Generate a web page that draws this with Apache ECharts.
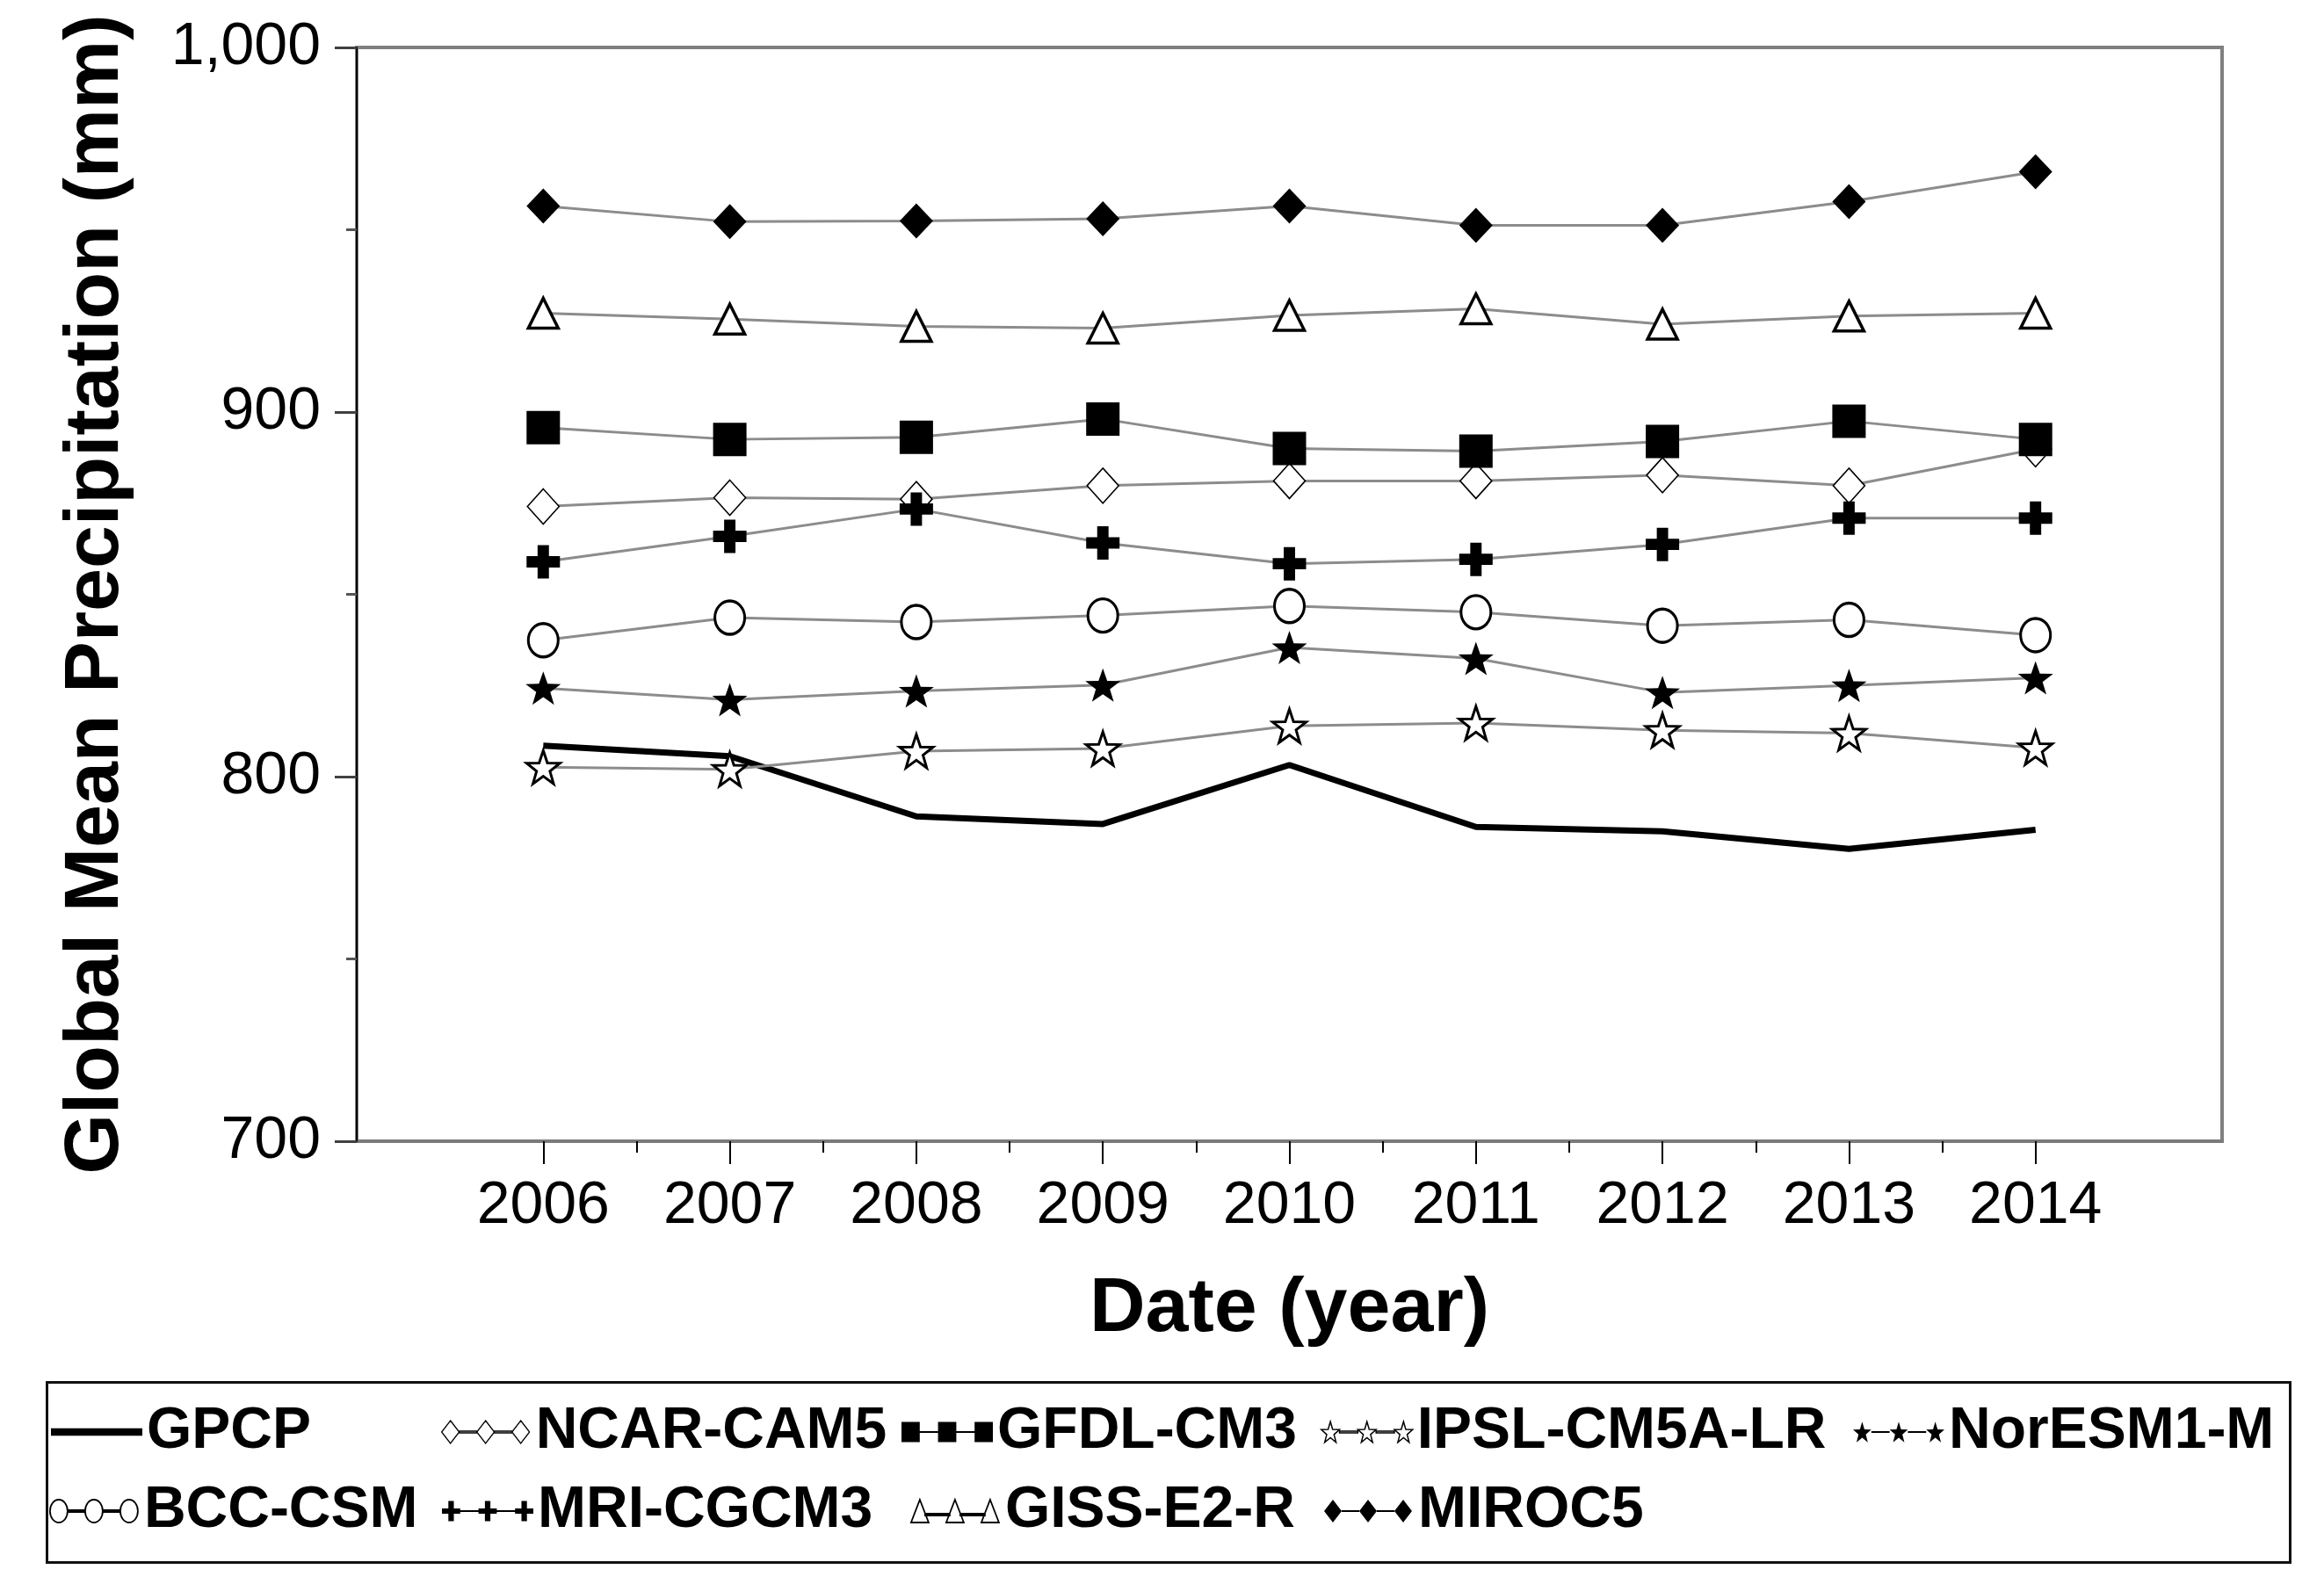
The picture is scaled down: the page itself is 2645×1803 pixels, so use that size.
<!DOCTYPE html>
<html>
<head>
<meta charset="utf-8">
<script src="https://cdn.jsdelivr.net/npm/echarts@6/dist/echarts.min.js"></script>
<style>html,body{margin:0;padding:0;background:#fff}#c{width:2645px;height:1803px}</style>
</head>
<body>
<div id="c"></div>
<script>
// ---- data ----
const years = [2006, 2007, 2008, 2009, 2010, 2011, 2012, 2013, 2014];
const minorYears = [2006.5, 2007.5, 2008.5, 2009.5, 2010.5, 2011.5, 2012.5, 2013.5];
const yTicks = [700, 800, 900, 1000];
const GPCP     = [808.5, 805.6, 789.1, 787.0, 803.2, 786.2, 785.0, 780.2, 785.4];
const NCAR     = [874.1, 876.5, 876.1, 879.8, 881.1, 881.1, 882.7, 879.8, 889.8];
const GFDL     = [895.7, 892.5, 893.1, 898.1, 890.0, 889.3, 891.9, 897.5, 892.5];
const IPSL     = [802.6, 802.0, 807.0, 807.7, 813.9, 814.7, 812.7, 811.9, 807.9];
const NorESM   = [824.3, 821.1, 823.5, 825.1, 835.4, 832.4, 823.1, 825.0, 827.1];
const BCC      = [837.4, 843.6, 842.4, 844.2, 846.8, 845.1, 841.4, 843.0, 838.8];
const MRI      = [858.9, 865.9, 873.4, 864.1, 858.4, 859.6, 863.7, 870.9, 870.9];
const GISS     = [927.1, 925.5, 923.5, 923.0, 926.5, 928.3, 924.1, 926.3, 927.1];
const MIROC5   = [956.5, 952.2, 952.4, 953.0, 956.5, 951.2, 951.2, 957.7, 965.9];

// ---- symbol shapes ----
const STAR = 'path://M50 0L61.76 33.82L97.55 34.55L69.02 56.18L79.39 90.45L50 70L20.61 90.45L30.98 56.18L2.45 34.55L38.24 33.82Z';
const PLUS = 'path://M33 0H67V33H100V67H67V100H33V67H0V33H33Z';

function pts(list, dx) { return 'M' + list.map(p => (p[0] + dx).toFixed(2) + ' ' + p[1].toFixed(2)).join('L') + 'Z'; }
const starPts = [[50,0],[61.76,33.82],[97.55,34.55],[69.02,56.18],[79.39,90.45],[50,70],[20.61,90.45],[30.98,56.18],[2.45,34.55],[38.24,33.82]]
  .map(p => [(p[0] - 2.45) * 0.21, p[1] * 0.25 + 1.7]);
const conn = 'M20 12H40V14H20Z M60 12H80V14H60Z';
const ICON = {
  line: 'path://M0 9H100V17H0Z',
  diamond: 'path://' + [0, 40, 80].map(d => pts([[10,0],[20,13],[10,26],[0,13]], d)).join(' ') + ' ' + conn,
  square: 'path://' + [0, 40, 80].map(d => pts([[0,2],[20,2],[20,24],[0,24]], d)).join(' ') + ' ' + conn,
  triangle: 'path://' + [0, 40, 80].map(d => pts([[10,0],[20,26],[0,26]], d)).join(' ') + ' M16 16H44V18H16Z M56 16H84V18H56Z',
  circle: 'path://' + [0, 40, 80].map(d => 'M' + (10 + d) + ' 0A10 13 0 1 1 ' + (10 + d) + ' 26A10 13 0 1 1 ' + (10 + d) + ' 0Z').join(' ') + ' ' + conn,
  plus: 'path://' + [0, 40, 80].map(d => pts([[7,2],[13,2],[13,10],[20,10],[20,16],[13,16],[13,24],[7,24],[7,16],[0,16],[0,10],[7,10]], d)).join(' ') + ' ' + conn,
  star: 'path://' + [0, 40, 80].map(d => pts(starPts, d)).join(' ') + ' ' + conn
};

const FONT = '"Liberation Sans", Arial, sans-serif';
const LINE_GRAY = '#8c8c8c';

const seriesDefs = [
  { name: 'GPCP',        data: GPCP,   symbol: 'none',    size: 0,        fill: '#000', bw: 0,   icon: 'line',     iconFill: '#000', iconBw: 0 },
  { name: 'NCAR-CAM5',   data: NCAR,   symbol: 'diamond', size: [36, 40], fill: '#fff', bw: 1.6, icon: 'diamond',  iconFill: '#fff', iconBw: 1.3 },
  { name: 'GFDL-CM3',    data: GFDL,   symbol: 'rect',    size: [38, 38], fill: '#000', bw: 0,   icon: 'square',   iconFill: '#000', iconBw: 0 },
  { name: 'IPSL-CM5A-LR',data: IPSL,   symbol: STAR,      size: [38, 38], fill: '#fff', bw: 3,   icon: 'star',     iconFill: '#fff', iconBw: 1.5 },
  { name: 'NorESM1-M',   data: NorESM, symbol: STAR,      size: [40, 38], fill: '#000', bw: 0,   icon: 'star',     iconFill: '#000', iconBw: 0 },
  { name: 'BCC-CSM',     data: BCC,    symbol: 'circle',  size: [34, 38], fill: '#fff', bw: 3.2, icon: 'circle',   iconFill: '#fff', iconBw: 1.8 },
  { name: 'MRI-CGCM3',   data: MRI,    symbol: PLUS,      size: [38, 38], fill: '#000', bw: 0,   icon: 'plus',     iconFill: '#000', iconBw: 0 },
  { name: 'GISS-E2-R',   data: GISS,   symbol: 'triangle',size: [34, 34], fill: '#fff', bw: 3.5, icon: 'triangle', iconFill: '#fff', iconBw: 1.8 },
  { name: 'MIROC5',      data: MIROC5, symbol: 'diamond', size: [38, 40], fill: '#000', bw: 0,   icon: 'diamond',  iconFill: '#000', iconBw: 0 }
];

const series = seriesDefs.map(d => ({
  name: d.name,
  type: 'line',
  xAxisIndex: 0,
  yAxisIndex: 0,
  data: years.map((y, i) => [y, d.data[i]]),
  symbol: d.symbol,
  symbolSize: d.size,
  showSymbol: d.symbol !== 'none',
  itemStyle: { color: d.fill, borderColor: '#000', borderWidth: d.bw },
  lineStyle: d.name === 'GPCP' ? { color: '#000', width: 7 } : { color: LINE_GRAY, width: 3 },
  emphasis: { disabled: true },
  animation: false,
  z: 2
}));

// legend placement (icon left x, row centre)
const legendPos = {
  'GPCP': [58, 0], 'NCAR-CAM5': [502, 0], 'GFDL-CM3': [1026, 0], 'IPSL-CM5A-LR': [1503, 0], 'NorESM1-M': [2109, 0],
  'BCC-CSM': [56, 1], 'MRI-CGCM3': [503, 1], 'GISS-E2-R': [1036, 1], 'MIROC5': [1507, 1]
};
const rowTop = [1597, 1687];
const legends = seriesDefs.map(d => ({
  left: legendPos[d.name][0],
  top: rowTop[legendPos[d.name][1]],
  padding: 0,
  itemWidth: 104,
  itemHeight: 26,
  itemGap: 0,
  selectedMode: false,
  textStyle: { fontFamily: FONT, fontSize: 66, fontWeight: 'bold', color: '#000' },
  data: [{ name: d.name, icon: ICON[d.icon], itemStyle: { color: d.iconFill, borderColor: '#000', borderWidth: d.iconBw } }]
}));

const option = {
  backgroundColor: '#fff',
  animation: false,
  textStyle: { fontFamily: FONT },
  grid: { left: 406, right: 116, top: 54, bottom: 504, show: true, borderColor: '#808080', borderWidth: 4, backgroundColor: 'transparent', z: 0 },
  xAxis: [
    {
      type: 'value', min: 2005, max: 2015, interval: 1, position: 'bottom',
      name: 'Date (year)', nameLocation: 'middle', nameGap: 148,
      nameTextStyle: { fontFamily: FONT, fontSize: 88, fontWeight: 'bold', color: '#000' },
      axisLine: { show: true, lineStyle: { color: '#7a7a7a', width: 4 } },
      axisTick: { show: true, customValues: years, length: 26, inside: false, lineStyle: { color: '#000', width: 2 } },
      axisLabel: { show: true, customValues: years, margin: 40, fontFamily: FONT, fontSize: 68, color: '#000', formatter: v => String(v) },
      splitLine: { show: false }
    },
    {
      type: 'value', min: 2005, max: 2015, position: 'bottom', gridIndex: 0,
      axisLine: { show: false },
      axisTick: { show: true, customValues: minorYears, length: 13, lineStyle: { color: '#000', width: 2 } },
      axisLabel: { show: false },
      splitLine: { show: false }
    }
  ],
  yAxis: [
    {
      type: 'value', min: 700, max: 1000, interval: 100, z: 5,
      name: 'Global Mean Precipitation (mm)', nameLocation: 'middle', nameGap: 252, nameRotate: 90,
      nameTextStyle: { fontFamily: FONT, fontSize: 88, fontWeight: 'bold', color: '#000' },
      axisLine: { show: true, lineStyle: { color: '#000', width: 2 } },
      axisTick: { show: true, customValues: yTicks, length: 25, lineStyle: { color: '#404040', width: 3 } },
      minorTick: { show: true, splitNumber: 2, length: 12, lineStyle: { color: '#555', width: 3 } },
      axisLabel: { show: true, customValues: yTicks, margin: 41, fontFamily: FONT, fontSize: 68, color: '#000',
        formatter: v => v >= 1000 ? Math.floor(v / 1000) + ',' + String(v % 1000).padStart(3, '0') : String(v) },
      splitLine: { show: false },
      minorSplitLine: { show: false }
    }
  ],
  legend: legends,
  graphic: [
    { type: 'rect', left: 51, top: 1571, shape: { width: 2553, height: 205 }, style: { fill: 'none', stroke: '#111', lineWidth: 3 }, z: 10 }
  ],
  series: series
};

const chart = echarts.init(document.getElementById('c'), null, { renderer: 'canvas', width: 2645, height: 1803 });
chart.setOption(option);
</script>
</body>
</html>
